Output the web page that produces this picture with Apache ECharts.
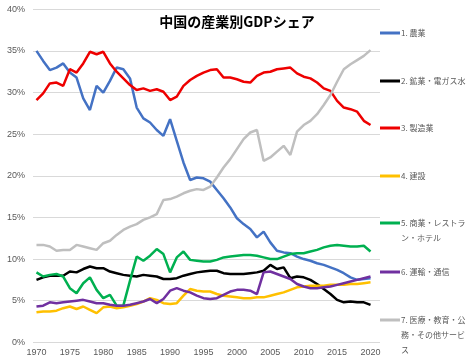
<!DOCTYPE html>
<html><head><meta charset="utf-8">
<script src="https://cdn.jsdelivr.net/npm/echarts@6/dist/echarts.min.js"></script>
<style>html,body{margin:0;padding:0;background:#fff}#c{width:474px;height:361px}</style>
</head><body><div id="c"></div>
<script>
const years = [1970,1971,1972,1973,1974,1975,1976,1977,1978,1979,1980,1981,1982,1983,1984,1985,1986,1987,1988,1989,1990,1991,1992,1993,1994,1995,1996,1997,1998,1999,2000,2001,2002,2003,2004,2005,2006,2007,2008,2009,2010,2011,2012,2013,2014,2015,2016,2017,2018,2019,2020];
const tickYears = [1970,1975,1980,1985,1990,1995,2000,2005,2010,2015,2020];

const seriesNames = ['1. 農業','2. 鉱業・電ガス水','3. 製造業','4. 建設','5. 商業・レストラン・ホテル','6. 運輸・通信','7. 医療・教育・公務・その他サービス'];
const legendTexts = ['1. 農業','2. 鉱業・電ガス水','3. 製造業','4. 建設','\n5. 商業・レストラ\nン・ホテル','6. 運輸・通信','\n\n7. 医療・教育・公\n務・その他サービ\nス'];

const agriculture = [35.0,33.8,32.7,33.0,33.5,32.4,31.8,29.3,27.9,30.8,30.0,31.4,33.0,32.8,31.7,28.2,26.9,26.4,25.5,24.8,26.8,24.2,21.6,19.5,19.8,19.7,19.3,18.3,17.3,16.2,14.9,14.2,13.6,12.6,13.3,12.0,11.0,10.8,10.7,10.3,10.0,9.8,9.5,9.3,9.0,8.7,8.3,7.8,7.5,7.6,7.7];
const mining = [7.5,7.8,8.0,8.0,8.0,8.5,8.4,8.8,9.1,8.9,8.9,8.5,8.3,8.1,8.0,7.9,8.1,8.0,7.9,7.6,7.6,7.7,8.0,8.2,8.4,8.5,8.6,8.6,8.3,8.2,8.2,8.2,8.3,8.4,8.6,9.3,8.8,9.0,7.7,7.9,7.8,7.5,7.0,6.4,5.8,5.1,4.8,4.9,4.8,4.8,4.5];
const manufacturing = [29.1,29.9,31.1,31.2,30.8,32.8,32.4,33.5,34.9,34.6,34.9,33.5,32.5,31.7,30.9,30.3,30.5,30.2,30.4,30.1,29.1,29.5,30.8,31.5,32.0,32.4,32.7,32.8,31.8,31.8,31.6,31.3,31.2,32.0,32.4,32.5,32.8,32.9,33.0,32.3,31.9,31.7,31.2,30.5,30.2,29.0,28.2,28.0,27.7,26.6,26.1];
const construction = [3.6,3.7,3.7,3.8,4.1,4.3,4.0,4.3,3.9,3.5,4.2,4.3,4.1,4.2,4.4,4.6,4.9,5.3,5.1,4.7,4.6,4.7,5.6,6.4,6.2,6.1,6.1,5.8,5.6,5.5,5.4,5.3,5.3,5.4,5.4,5.6,5.8,6.0,6.3,6.6,6.7,6.8,6.8,6.8,6.9,6.9,6.9,7.0,7.0,7.1,7.2];
const commerce = [8.4,7.9,8.1,8.2,7.9,6.5,5.9,7.1,7.8,6.3,5.3,5.7,4.4,4.4,7.4,10.3,9.8,10.4,11.2,10.6,8.4,10.2,10.9,9.9,9.8,9.7,9.7,9.9,10.2,10.3,10.4,10.5,10.5,10.4,10.2,10.0,10.0,10.3,10.6,10.7,10.7,10.9,11.1,11.4,11.6,11.7,11.6,11.5,11.5,11.6,10.9];
const transport = [4.3,4.4,4.8,4.7,4.8,4.9,5.0,5.1,4.9,4.7,4.7,4.5,4.4,4.4,4.5,4.7,4.9,5.2,4.7,5.2,6.2,6.5,6.2,6.0,5.6,5.3,5.2,5.3,5.7,6.1,6.3,6.3,6.2,5.8,8.4,8.5,8.2,7.9,7.6,7.0,6.7,6.5,6.5,6.6,6.7,6.9,7.1,7.3,7.5,7.7,7.9];
const services = [11.7,11.7,11.5,11.0,11.1,11.1,11.7,11.5,11.3,11.1,11.9,12.2,12.9,13.5,13.9,14.2,14.7,15.0,15.4,17.1,17.2,17.5,17.9,18.2,18.4,18.3,18.7,19.8,21.0,22.0,23.2,24.4,25.2,25.5,21.8,22.2,22.9,23.6,22.5,25.3,26.1,26.6,27.4,28.5,29.7,31.3,32.8,33.4,33.9,34.4,35.1];

const allValues = [agriculture, mining, manufacturing, construction, commerce, transport, services];
const colors = ['#4472C4','#000000','#EE0000','#FFC000','#00B050','#7030A0','#BFBFBF'];
const legendCenters = [33, 81, 128, 176, 223, 272, 320];

const chart = echarts.init(document.getElementById('c'));
const lineH = 15;
chart.setOption({
  animation: false,
  backgroundColor: '#fff',
  title: {
    text: '中国の産業別GDPシェア', left: 'center', top: 10,
    textStyle: {fontSize: 14, fontWeight: 'bold', color: '#000', fontFamily: 'Noto Sans CJK JP'}
  },
  grid: {left: 33, right: 94, top: 9.3, bottom: 18.7},
  xAxis: {
    type: 'value', min: 1969.48, max: 2021.42,
    splitLine: {show: false}, axisLine: {show: false}, axisTick: {show: false},
    axisLabel: {customValues: tickYears, formatter: v => String(v), fontSize: 9, color: '#595959', margin: 6, fontFamily: 'Liberation Sans'}
  },
  yAxis: {
    type: 'value', min: 0, max: 40, interval: 5,
    axisLine: {show: false}, axisTick: {show: false},
    splitLine: {lineStyle: {color: '#D9D9D9', width: 1}},
    axisLabel: {formatter: '{value}%', fontSize: 9, color: '#595959', margin: 8, fontFamily: 'Liberation Sans'}
  },
  legend: seriesNames.map((n, i) => {
    const nLines = legendTexts[i].split('\n').length;
    return {
      data: [n], orient: 'vertical', left: 380, top: legendCenters[i] - nLines * lineH / 2,
      padding: 0, itemWidth: 20, itemHeight: 3, icon: 'rect', itemGap: 0, selectedMode: false,
      formatter: () => legendTexts[i],
      textStyle: {fontSize: 8, color: '#595959', lineHeight: lineH, fontFamily: 'Noto Sans CJK JP', padding: [0, 0, 0, -4]}
    };
  }),
  series: seriesNames.map((n, i) => ({
    name: n, type: 'line', symbol: 'none', smooth: false,
    color: colors[i],
    lineStyle: {width: 2.5, color: colors[i]},
    itemStyle: {color: colors[i]},
    data: years.map((y, k) => [y, allValues[i][k]])
  }))
});
</script></body></html>
